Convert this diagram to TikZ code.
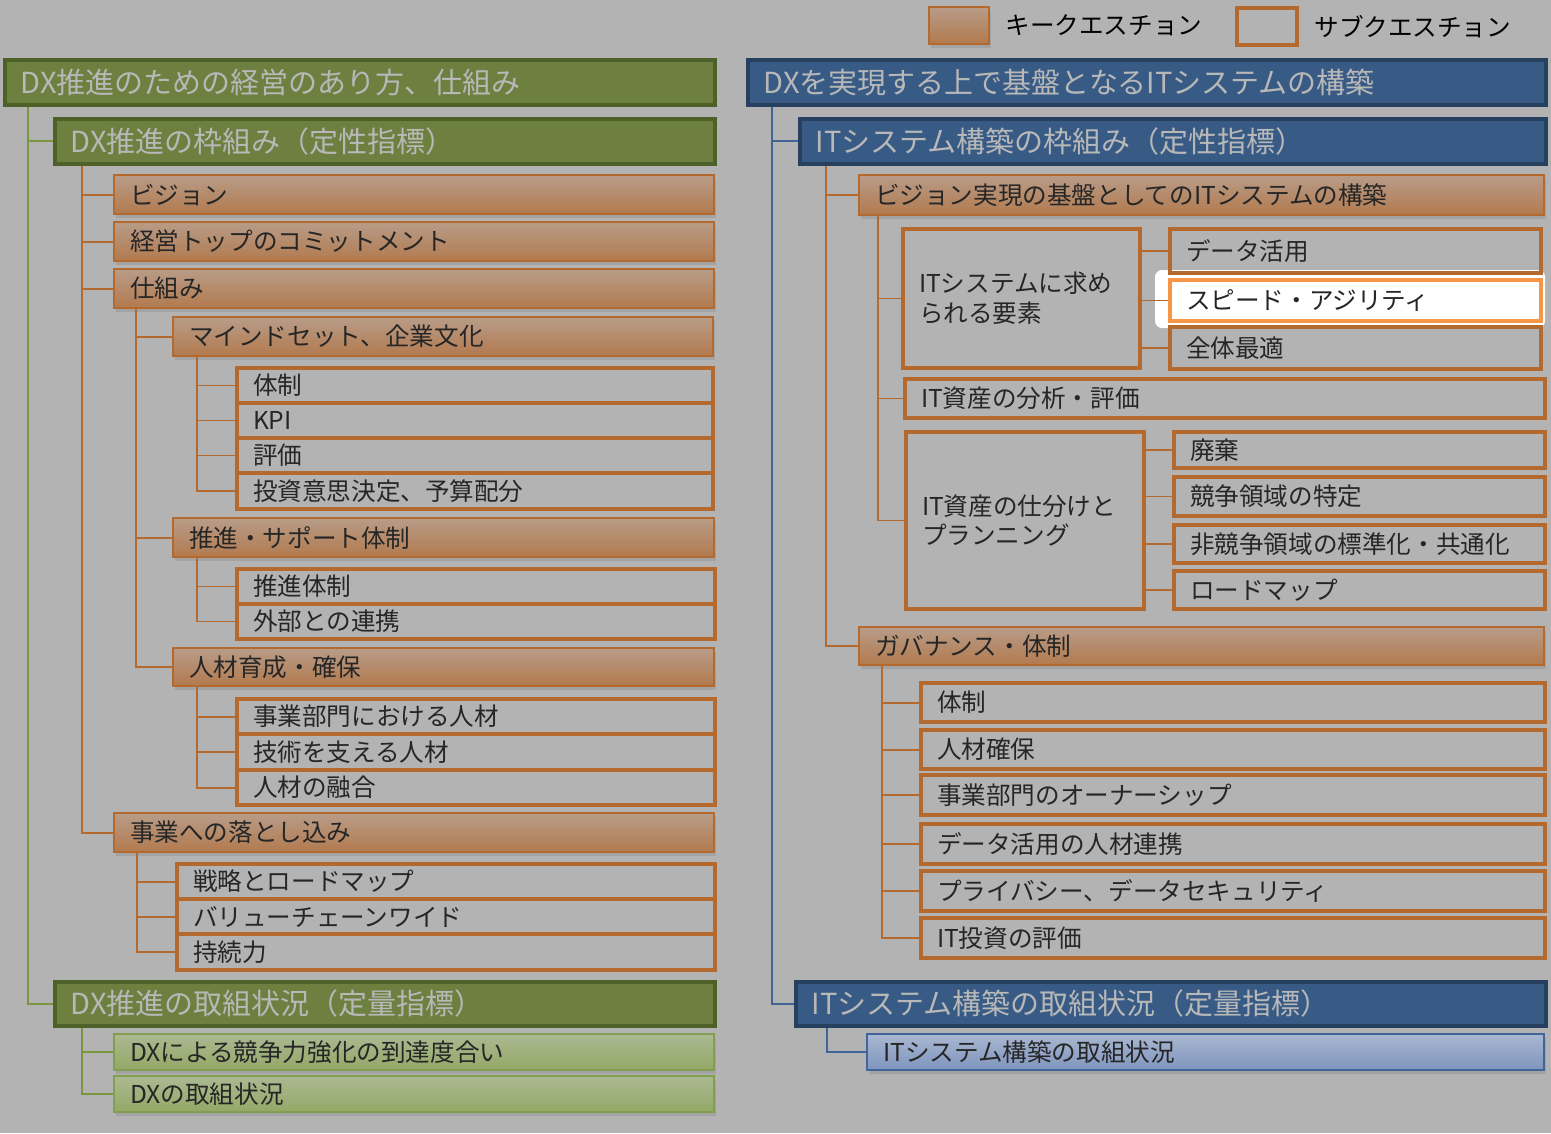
\documentclass[tikz,border=0pt]{standalone}
\usepackage{fontspec}
\setmainfont{Noto Sans CJK JP}
\usetikzlibrary{positioning,calc,shadows}
\definecolor{bgc}{HTML}{B3B3B3}
\definecolor{hgreen}{HTML}{6E803F}
\definecolor{hgreenD}{HTML}{4E6128}
\definecolor{hblue}{HTML}{385B86}
\definecolor{hblueD}{HTML}{27405F}
\definecolor{htext}{HTML}{B8B8B8}
\definecolor{qorange}{HTML}{B4692F}
\definecolor{kqtop}{HTML}{B89C88}
\definecolor{kqbot}{HTML}{B27A4E}
\definecolor{lgtop}{HTML}{ABB992}
\definecolor{lgbot}{HTML}{93A866}
\definecolor{lgD}{HTML}{839E4E}
\definecolor{lbtop}{HTML}{A9B7D0}
\definecolor{lbbot}{HTML}{7F95BE}
\definecolor{lbD}{HTML}{41659A}
\definecolor{glink}{HTML}{7C963F}
\definecolor{blink}{HTML}{3F6496}
\definecolor{hilite}{HTML}{F79646}

\tikzset{
  bw/.code={\pgfmathsetmacro\bwtot{#1*0.02}\pgfmathsetmacro\bwtxt{#1*0.02-0.64}%
    \tikzset{minimum width=\bwtot cm, text width=\bwtxt cm}},
  bh/.code={\pgfmathsetmacro\bhtot{#1*0.02}\tikzset{minimum height=\bhtot cm}},
  base/.style={draw, anchor=north west, align=left, inner xsep=0.32cm, inner ysep=0pt,
    font=\fontsize{14}{17}\selectfont, text=black!85},
  hdgreen/.style={base, fill=hgreen, draw=hgreenD, line width=2.2pt, text=htext,
    font=\fontsize{16.5}{20}\selectfont},
  hdblue/.style={base, fill=hblue, draw=hblueD, line width=2.2pt, text=htext,
    font=\fontsize{16.5}{20}\selectfont},
  keyq/.style={base, draw=qorange, line width=1.2pt, top color=kqtop, bottom color=kqbot,
    drop shadow={opacity=0.3, shadow xshift=1pt, shadow yshift=-2pt}},
  subq/.style={base, draw=qorange, line width=2.3pt},
  kqgreen/.style={base, draw=lgD, line width=1.2pt, top color=lgtop, bottom color=lgbot,
    drop shadow={opacity=0.3, shadow xshift=1pt, shadow yshift=-2pt}},
  kqblue/.style={base, draw=lbD, line width=1.2pt, top color=lbtop, bottom color=lbbot,
    drop shadow={opacity=0.3, shadow xshift=1pt, shadow yshift=-2pt}},
  oline/.style={draw=qorange, line width=1.1pt},
  gline/.style={draw=glink, line width=1.1pt},
  bline/.style={draw=blink, line width=1.1pt},
}

\begin{document}
\begin{tikzpicture}[x=0.02cm, y=-0.02cm]
  \useasboundingbox (0,0) rectangle (1551,1133);
  \fill[bgc] (0,0) rectangle (1551,1133);

  % Legend
  \node[keyq, bw=60, bh=37] (lgkey) at (928,6) {};
  \node[font=\fontsize{14}{17}\selectfont, inner sep=0pt, right=0.3cm of lgkey] {キークエスチョン};
  \node[subq, bw=60, bh=37] (lgsub) at (1235,6) {};
  \node[font=\fontsize{14}{17}\selectfont, inner sep=0pt, right=0.3cm of lgsub] {サブクエスチョン};

  % Left tree
  \node[hdgreen, bw=710, bh=45] (dxmgmt) at (3,58) {DX推進のための経営のあり方、仕組み};
  \node[hdgreen, bw=660, bh=45] (dxframe) at (53,117) {DX推進の枠組み（定性指標）};
  \node[keyq, bw=600, bh=39] (vis) at (113,174) {ビジョン};
  \node[keyq, bw=600, bh=39] (commit) at (113,221) {経営トップのコミットメント};
  \node[keyq, bw=600, bh=39] (shikumi) at (113,268) {仕組み};
  \node[keyq, bw=540, bh=39] (mind) at (172,316) {マインドセット、企業文化};
  \node[subq, bw=476, bh=35] (mtai) at (235,366) {体制};
  \node[subq, bw=476, bh=35] (mkpi) at (235,401) {KPI};
  \node[subq, bw=476, bh=35] (mhyoka) at (235,436) {評価};
  \node[subq, bw=476, bh=36] (mtoshi) at (235,471) {投資意思決定、予算配分};
  \node[keyq, bw=541, bh=39] (supp) at (172,517) {推進・サポート体制};
  \node[subq, bw=478, bh=35] (stai) at (235,567) {推進体制};
  \node[subq, bw=478, bh=35] (sgai) at (235,602) {外部との連携};
  \node[keyq, bw=541, bh=38] (hr) at (172,647) {人材育成・確保};
  \node[subq, bw=478, bh=35] (hrbiz) at (235,697) {事業部門における人材};
  \node[subq, bw=478, bh=36] (hrtech) at (235,732) {技術を支える人材};
  \node[subq, bw=478, bh=35] (hrmix) at (235,768) {人材の融合};
  \node[keyq, bw=600, bh=39] (biz) at (113,812) {事業への落とし込み};
  \node[subq, bw=538, bh=35] (bizmap) at (175,862) {戦略とロードマップ};
  \node[subq, bw=538, bh=35] (bizvc) at (175,897) {バリューチェーンワイド};
  \node[subq, bw=538, bh=36] (bizsus) at (175,932) {持続力};
  \node[hdgreen, bw=660, bh=44] (dxstat) at (53,980) {DX推進の取組状況（定量指標）};
  \node[kqgreen, bw=600, bh=36] (stlevel) at (113,1033) {DXによる競争力強化の到達度合い};
  \node[kqgreen, bw=600, bh=36] (stdx) at (113,1075) {DXの取組状況};

  % Left connectors
  \foreach \c in {dxframe,dxstat}
    \draw[gline] ($(dxmgmt.south west)+(25,0)$) |- (\c.west);
  \foreach \c in {vis,commit,shikumi,biz}
    \draw[oline] ($(dxframe.south west)+(29,0)$) |- (\c.west);
  \foreach \c in {mind,supp,hr}
    \draw[oline] ($(shikumi.south west)+(23,0)$) |- (\c.west);
  \foreach \c in {mtai,mkpi,mhyoka,mtoshi}
    \draw[oline] ($(mind.south west)+(25,0)$) |- (\c.west);
  \foreach \c in {stai,sgai}
    \draw[oline] ($(supp.south west)+(25,0)$) |- (\c.west);
  \foreach \c in {hrbiz,hrtech,hrmix}
    \draw[oline] ($(hr.south west)+(25,0)$) |- (\c.west);
  \foreach \c in {bizmap,bizvc,bizsus}
    \draw[oline] ($(biz.south west)+(24,0)$) |- (\c.west);
  \foreach \c in {stlevel,stdx}
    \draw[gline] ($(dxstat.south west)+(29,0)$) |- (\c.west);

  % Right tree
  \fill[white, rounded corners=4] (1155,270) rectangle (1545,328);
  \node[hdblue, bw=798, bh=45] (itsys) at (746,58) {DXを実現する上で基盤となるITシステムの構築};
  \node[hdblue, bw=746, bh=45] (itframe) at (798,117) {ITシステム構築の枠組み（定性指標）};
  \node[keyq, bw=685, bh=40] (visit) at (858,174) {ビジョン実現の基盤としてのITシステムの構築};
  \node[subq, bw=237, bh=139] (req) at (901,227) {ITシステムに求め\\られる要素};
  \node[subq, bw=371, bh=44] (rdata) at (1168,227) {データ活用};
  \node[subq, bw=371, bh=41, draw=hilite, fill=white] (rspeed) at (1168,278) {スピード・アジリティ};
  \node[subq, bw=371, bh=42] (rall) at (1168,325) {全体最適};
  \node[subq, bw=640, bh=39] (asset) at (903,377) {IT資産の分析・評価};
  \node[subq, bw=238, bh=177] (plan) at (904,430) {IT資産の仕分けと\\プランニング};
  \node[subq, bw=371, bh=36] (pdisc) at (1172,430) {廃棄};
  \node[subq, bw=371, bh=39] (pcomp) at (1172,475) {競争領域の特定};
  \node[subq, bw=371, bh=38] (pstd) at (1172,523) {非競争領域の標準化・共通化};
  \node[subq, bw=371, bh=38] (proad) at (1172,569) {ロードマップ};
  \node[keyq, bw=685, bh=38] (gov) at (858,626) {ガバナンス・体制};
  \node[subq, bw=624, bh=39] (gtai) at (919,681) {体制};
  \node[subq, bw=624, bh=39] (ghr) at (919,728) {人材確保};
  \node[subq, bw=624, bh=40] (gown) at (919,773) {事業部門のオーナーシップ};
  \node[subq, bw=624, bh=40] (gdata) at (919,822) {データ活用の人材連携};
  \node[subq, bw=624, bh=40] (gsec) at (919,869) {プライバシー、データセキュリティ};
  \node[subq, bw=624, bh=40] (ginv) at (919,916) {IT投資の評価};
  \node[hdblue, bw=750, bh=44] (itstat) at (794,980) {ITシステム構築の取組状況（定量指標）};
  \node[kqblue, bw=677, bh=36] (itnow) at (866,1033) {ITシステム構築の取組状況};

  % Right connectors
  \foreach \c in {itframe,itstat}
    \draw[bline] ($(itsys.south west)+(26,0)$) |- (\c.west);
  \foreach \c in {visit,gov}
    \draw[oline] ($(itframe.south west)+(28,0)$) |- (\c.west);
  \foreach \c in {req,asset,plan}
    \draw[oline] ($(visit.south west)+(20,0)$) |- (\c.west);
  \foreach \c in {rdata,rspeed,rall}
    \draw[oline] (req.east |- \c.west) -- (\c.west);
  \foreach \c in {pdisc,pcomp,pstd,proad}
    \draw[oline] (plan.east |- \c.west) -- (\c.west);
  \foreach \c in {gtai,ghr,gown,gdata,gsec,ginv}
    \draw[oline] ($(gov.south west)+(24,0)$) |- (\c.west);
  \draw[bline] ($(itstat.south west)+(33,0)$) |- (itnow.west);
\end{tikzpicture}
\end{document}
